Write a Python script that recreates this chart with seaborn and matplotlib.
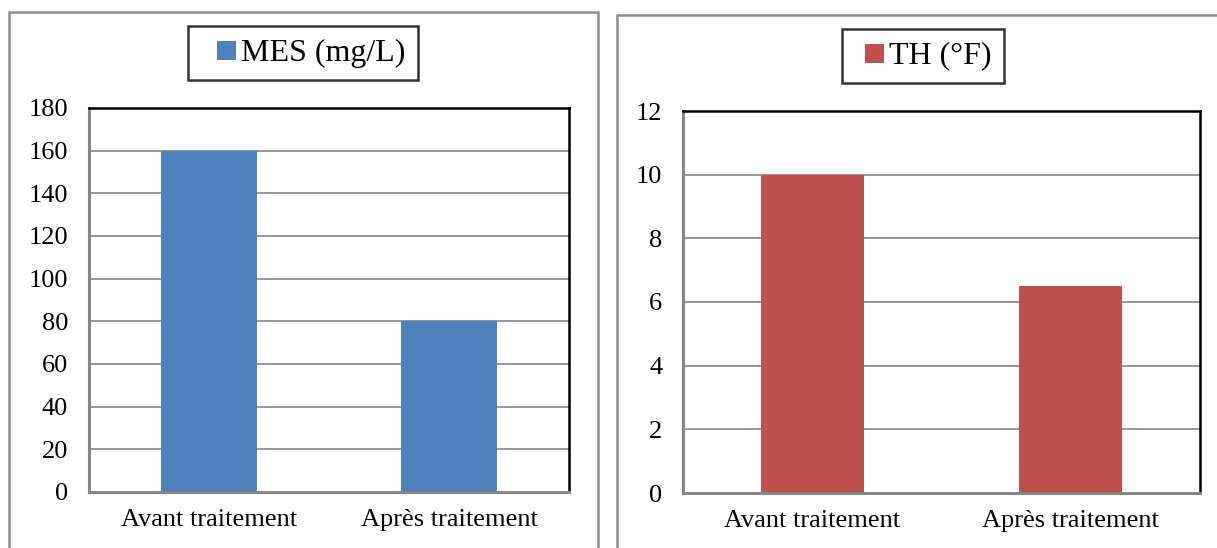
import matplotlib
matplotlib.use('Agg')
import matplotlib.pyplot as plt
from matplotlib.patches import Patch, Rectangle
from matplotlib.legend_handler import HandlerPatch
import seaborn as sns

categories = ['Avant traitement', 'Après traitement']
mes_values = [160, 80]
th_values = [10, 6.5]
mes_label = 'MES (mg/L)'
th_label = 'TH (°F)'
mes_ticks = [0, 20, 40, 60, 80, 100, 120, 140, 160, 180]
th_ticks = [0, 2, 4, 6, 8, 10, 12]

sns.set_style('white')
plt.rcParams['font.family'] = ['Liberation Serif', 'DejaVu Serif']
plt.rcParams['text.color'] = 'black'
plt.rcParams['xtick.color'] = 'black'
plt.rcParams['ytick.color'] = 'black'

W, H = 1217, 548
fig = plt.figure(figsize=(W / 100, H / 100), dpi=100)

# outer panel frames (pixel coords -> figure fraction)
for x0, y0, x1 in [(9, 12, 598), (617, 15, 1230)]:
    fig.patches.append(Rectangle((x0 / W, -0.05), (x1 - x0) / W, 1.05 - y0 / H,
                                 transform=fig.transFigure, fill=False,
                                 edgecolor='#8c8c8c', linewidth=1.8))


def square_right(legend, orig_handle, xdescent, ydescent, width, height, fontsize):
    # square marker pushed to the right end of the handle box
    return Rectangle((width - height - xdescent, -ydescent - 1), height, height)


def panel(rect, values, color, ticks, label, leg_xy, handle_len):
    ax = fig.add_axes(rect)
    sns.barplot(x=categories, y=values, color=color, saturation=1, width=0.4,
                linewidth=0, ax=ax)
    ax.set_ylim(ticks[0], ticks[-1])
    ax.set_xlim(-0.5, 1.5)
    ax.set_yticks(ticks)
    ax.set_axisbelow(True)
    ax.yaxis.grid(True, color='#868686', linewidth=1.2)
    ax.tick_params(axis='y', labelsize=19, pad=15, length=0)
    ax.tick_params(axis='x', labelsize=19, pad=12, length=0)
    for side in ['top', 'right']:
        ax.spines[side].set_color('black')
        ax.spines[side].set_linewidth(1.8)
        ax.spines[side].set_visible(True)
    for side in ['left', 'bottom']:
        ax.spines[side].set_color('#868686')
        ax.spines[side].set_linewidth(2.2)
        ax.spines[side].set_visible(True)
    ax.set_xlabel('')
    ax.set_ylabel('')
    leg = fig.legend(handles=[Patch(facecolor=color, edgecolor='none', label=label)],
                     handler_map={Patch: HandlerPatch(patch_func=square_right)},
                     loc='center', bbox_to_anchor=(leg_xy[0] / W, 1 - leg_xy[1] / H),
                     fontsize=23, frameon=True, fancybox=False,
                     handlelength=handle_len, handleheight=0.55, handletextpad=0.15,
                     borderpad=0.4, borderaxespad=0)
    leg.get_frame().set_edgecolor('black')
    leg.get_frame().set_linewidth(1.8)
    return ax


panel([89 / W, 1 - 492 / H, 480 / W, 384 / H], mes_values, '#4F81BD',
      mes_ticks, mes_label, (303, 53), 1.13)
panel([683 / W, 1 - 493 / H, 517 / W, 382 / H], th_values, '#C0504D',
      th_ticks, th_label, (923, 56), 0.94)

fig.savefig('out.png', dpi=100)
